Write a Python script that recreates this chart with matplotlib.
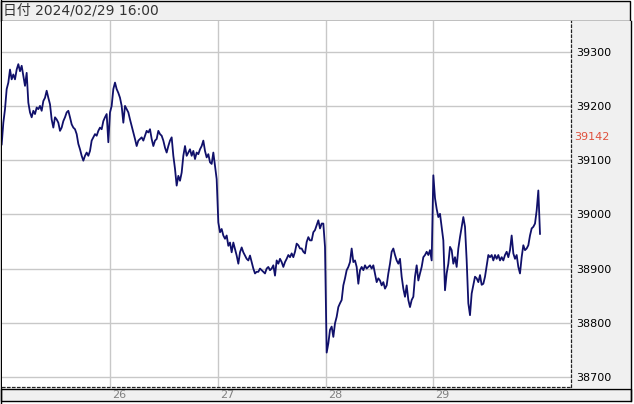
import numpy as np
import matplotlib
matplotlib.use('Agg')
import matplotlib.pyplot as plt
from matplotlib.patches import Rectangle
from matplotlib.transforms import offset_copy

# price per bar (bar index = position on x axis)
prices = [
    39129, 39169, 39194, 39231, 39243, 39267, 39249, 39258, 39249, 39267,
    39277, 39264, 39274, 39255, 39237, 39261, 39206, 39188, 39179, 39191,
    39185, 39197, 39194, 39200, 39191, 39209, 39215, 39228, 39215, 39203,
    39175, 39160, 39179, 39175, 39169, 39154, 39160, 39172, 39179, 39188,
    39191, 39179, 39166, 39160, 39157, 39148, 39130, 39120, 39108, 39099,
    39108, 39114, 39108, 39117, 39136, 39142, 39148, 39145, 39154, 39160,
    39157, 39172, 39179, 39185, 39133, 39188, 39200, 39231, 39243, 39231,
    39224, 39215, 39200, 39169, 39200, 39194, 39188, 39175, 39163, 39151,
    39139, 39126, 39136, 39139, 39142, 39136, 39145, 39154, 39151, 39157,
    39139, 39126, 39136, 39139, 39154, 39148, 39145, 39136, 39123, 39114,
    39126, 39136, 39142, 39108, 39084, 39053, 39071, 39062, 39077, 39108,
    39126, 39108, 39114, 39120, 39108, 39117, 39102, 39114, 39111, 39120,
    39126, 39136, 39117, 39105, 39111, 39096, 39093, 39114, 39090, 39065,
    38985, 38967, 38973, 38961, 38955, 38961, 38942, 38948, 38930, 38948,
    38936, 38924, 38909, 38930, 38939, 38930, 38924, 38918, 38915, 38924,
    38912, 38900, 38891, 38894, 38894, 38900, 38897, 38894, 38891, 38900,
    38903, 38897, 38900, 38906, 38887, 38915, 38909,
    # from 27 afternoon onwards
    38918, 38912, 38903, 38912, 38918, 38925, 38921, 38928, 38921, 38931,
    38946, 38943, 38937, 38937, 38931, 38928, 38949, 38958, 38952, 38952,
    38967, 38971, 38980, 38989, 38974, 38983, 38983, 38940, 38745, 38762,
    38787, 38793, 38774, 38799, 38811, 38829, 38836, 38842, 38869, 38882,
    38897, 38903, 38912, 38937, 38912, 38915, 38903, 38872, 38897, 38903,
    38897, 38906, 38900, 38903, 38906, 38900, 38906, 38891, 38875, 38882,
    38878, 38869, 38875, 38863, 38869, 38891, 38909, 38931, 38937, 38925,
    38915, 38909, 38918, 38885, 38863, 38848, 38869, 38842, 38829, 38842,
    38848, 38885, 38906, 38878, 38891, 38903, 38921, 38925, 38931, 38925,
    38934, 38915, 39072, 39030, 39010, 38995, 39001, 38977, 38952, 38860,
    38891, 38909, 38940, 38934, 38909, 38921, 38903, 38937, 38958, 38977,
    38995, 38977, 38915, 38836, 38814, 38854, 38870, 38885, 38882, 38875,
    38888, 38870, 38872, 38885, 38905, 38925, 38921, 38925, 38915, 38925,
    38918, 38925, 38915, 38921, 38915, 38925, 38931, 38921, 38934, 38961,
    38928, 38918, 38925, 38903, 38891, 38921, 38943, 38934, 38937, 38943,
    38961, 38974, 38977, 38983, 39007, 39044, 38964,
]

day_labels = ['26', '27', '28', '29']
day_start = [65.2, 130.0, 194.4, 259.0]   # bar index where each day begins
price_ticks = [38700, 38800, 38900, 39000, 39100, 39200, 39300]
marker_price = 39142
header = '日付 2024/02/29 16:00'

W, H = 634, 404
fig = plt.figure(figsize=(W / 100, H / 100), dpi=100)
fig.patch.set_facecolor('white')

# window frame drawn in pixel coordinates
bg = fig.add_axes([0, 0, 1, 1])
bg.set_xlim(0, W)
bg.set_ylim(H, 0)
bg.axis('off')
panel = '#f0f0f0'
bg.add_patch(Rectangle((1, 0.5), 629, 20.5, facecolor=panel, edgecolor='black', lw=1))
bg.add_patch(Rectangle((570.5, 21), 60, 367, facecolor=panel, edgecolor='none'))
bg.plot([630.5, 630.5], [21, 401], color='black', lw=1)
bg.add_patch(Rectangle((1, 388.5), 629.5, 12.5, facecolor=panel, edgecolor='black', lw=1))
bg.plot([1, 1], [0, 404], color='black', lw=1)
bg.text(3, 11, header, fontsize=10, color='#333333', va='center', ha='left',
        family=['DejaVu Sans', 'Noto Sans CJK JP'])

# price chart
left, right, top, bottom = 2, 570.5, 21, 386.5
ax = fig.add_axes([left / W, (H - bottom) / H, (right - left) / W, (bottom - top) / H])
ax.set_facecolor('white')
x = np.arange(len(prices))
ax.plot(x, prices, color='#10106a', lw=1.3)
ax.set_xlim(0.2, 341.3)
ax.set_ylim(38682.5, 39356.6)

ax.set_yticks(price_ticks)
ax.set_xticks(day_start)
ax.set_xticklabels([])
ax.grid(color='#c8c8c8', lw=1)
ax.set_axisbelow(True)
ax.yaxis.tick_right()
ax.tick_params(axis='y', length=0, pad=4, labelsize=8, labelcolor='black')
ax.tick_params(axis='x', length=0)

for side in ['left', 'top']:
    ax.spines[side].set_visible(False)
for side in ['right', 'bottom']:
    ax.spines[side].set_linestyle((0, (2, 2)))
    ax.spines[side].set_linewidth(0.9)
    ax.spines[side].set_color('#222222')

trans = offset_copy(ax.get_xaxis_transform(), fig=fig, x=2, y=-8, units='dots')
for d, lab in zip(day_start, day_labels):
    ax.text(d, 0, lab, transform=trans, fontsize=8, color='#808080',
            ha='left', va='center')

ax.text(1.0, marker_price, str(marker_price),
        transform=offset_copy(ax.get_yaxis_transform(), fig=fig, x=4, y=0, units='dots'),
        fontsize=8, color='#e0503c', ha='left', va='center')

fig.savefig('out.png', dpi=100)
